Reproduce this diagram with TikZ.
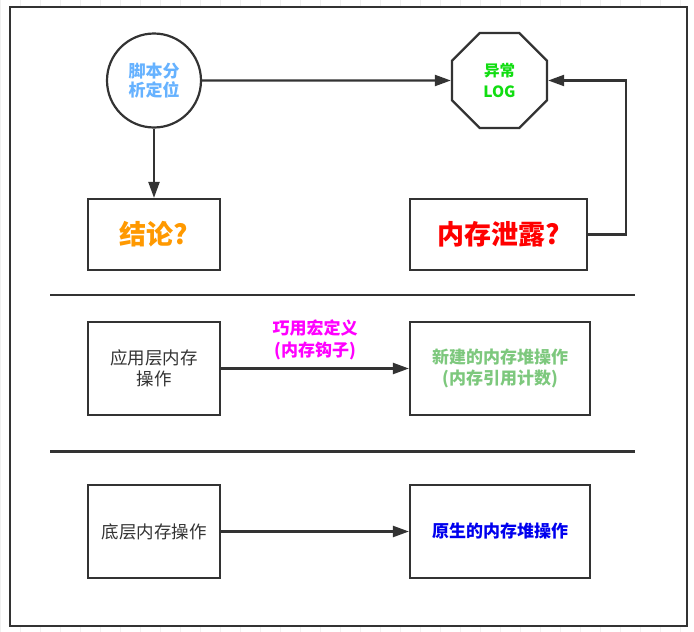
\documentclass[tikz,border=0pt]{standalone}
\usepackage{fontspec}
\setmainfont{Noto Sans CJK SC}
\usepackage{tikz}
\usetikzlibrary{arrows.meta,shapes.geometric}
\definecolor{ink}{HTML}{333333}
\definecolor{sky}{HTML}{66B2FF}
\definecolor{lime}{HTML}{11DD11}
\definecolor{amber}{HTML}{FF9900}
\definecolor{scarlet}{HTML}{FF0000}
\definecolor{pinkish}{HTML}{FF00FF}
\definecolor{sage}{HTML}{7DC87D}
\definecolor{royal}{HTML}{0000EE}

\begin{document}
\begin{tikzpicture}[x=1pt,y=-1pt,>={Triangle[length=16pt,width=11pt]},
   ln/.style={draw=ink,line width=2.2pt},
   bx/.style={ln,rectangle,align=center,inner sep=0pt,minimum width=#1},
   txt/.style={font=\fontsize{17.5pt}{21pt}\selectfont},
   txtb/.style={font=\fontsize{17pt}{21pt}\selectfont\bfseries},
   big/.style={font=\fontsize{27pt}{30pt}\selectfont\bfseries}]
  % canvas
  \useasboundingbox (0,0) rectangle (694,632);
  \draw[black!6,step=20] (0,0) grid (694,632);
  \draw[ln,fill=white] (10,7) rectangle (687,626);
  % top part
  \node[ln,circle,minimum size=94pt,inner sep=0pt,align=center,text=sky,
        font=\fontsize{17pt}{19pt}\selectfont\bfseries] (scr) at (154,80.5) {脚本分\\析定位};
  \node[ln,regular polygon,regular polygon sides=8,minimum size=103pt,inner sep=0pt,
        align=center,text=lime,font=\fontsize{15.5pt}{21pt}\selectfont\bfseries] (log) at (499.5,80.5) {异常\\LOG};
  \node[bx=132pt,minimum height=71pt,big,text=amber] (res) at (154,234.5) {结论?};
  \node[bx=177pt,minimum height=71pt,big,text=scarlet] (leak) at (498.5,234.5) {内存泄露?};
  \draw[ln,->] (scr) -- (log);
  \draw[ln,->] (scr) -- (res);
  \draw[ln,->] (leak.east) -- ++(38,0) |- (log.east);
  % separators
  \draw[ln] (50,295) -- (635,295);
  \draw[ln] (50,451.5) -- (635,451.5);
  % middle row
  \node[bx=132pt,minimum height=93pt,txt,text=ink] (app) at (154,368.5) {应用层内存\\操作};
  \node[bx=180pt,minimum height=93pt,txtb,text=sage] (hook) at (500,368.5) {新建的内存堆操作\\(内存引用计数)};
  \draw[ln,->] (app) -- node[above=4pt,align=center,text=pinkish,
        font=\fontsize{17pt}{22pt}\selectfont\bfseries]{巧用宏定义\\(内存钩子)} (hook);
  % bottom row
  \node[bx=132pt,minimum height=93pt,txt,text=ink] (low) at (154,531.5) {底层内存操作};
  \node[bx=180pt,minimum height=93pt,txtb,text=royal] (raw) at (500,531.5) {原生的内存堆操作};
  \draw[ln,->] (low) -- (raw);
\end{tikzpicture}
\end{document}
